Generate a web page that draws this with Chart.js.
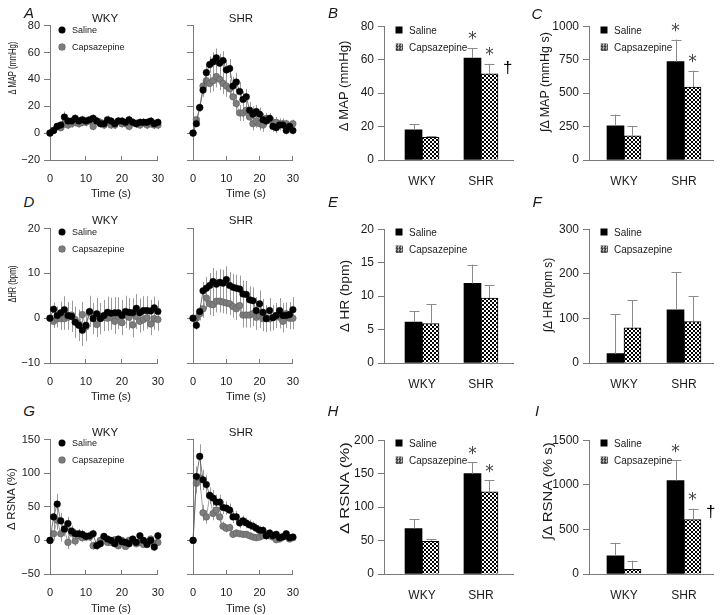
<!DOCTYPE html>
<html lang="en">
<head>
<meta charset="UTF-8">
<title>MAP, HR and RSNA responses</title>
<script src="https://cdn.jsdelivr.net/npm/chart.js"></script>
<style>
  body { margin: 0; background: #fff; }
  #fig { position: relative; width: 720px; height: 615px; overflow: hidden;
         font-family: "Liberation Sans", Arial, sans-serif; color: #1a1a1a; }
  #fig canvas { position: absolute; }
  .lbl { position: absolute; white-space: nowrap; transform: translate(-50%, -50%); }
  .letter { font-style: italic; font-size: 15px; }
  .sub { font-size: 11.5px; }
  .xt { font-size: 11px; }
  .leg { position: absolute; white-space: nowrap; transform: translateY(-50%); }
  .mk { position: absolute; transform: translate(-50%, -50%); }
</style>
</head>
<body>
<div id="fig"></div>
<script>
// ---- data ----
const seconds = [0,1,2,3,4,5,6,7,8,9,10,11,12,13,14,15,16,17,18,19,20,21,22,23,24,25,26,27,28,29,30];
const timeTicks = [0, 10, 20, 30];

// A: delta MAP (mmHg)
const mapTicks = [-20, 0, 20, 40, 60, 80];
const mapWkySal    = [0,2,5,6,12,9,9,11,9,10,9,10,11,9,7,7,10,9,7,9,9,8,10,8,7,8,8,8,9,7,8];
const mapWkySalErr = [0,1,2,2,4,3,3,3,3,3,3,3,3,3,3,3,3,3,3,3,3,3,3,3,3,3,3,3,3,3,3];
const mapWkyCap    = [0,2,5,4,7,6,7,8,7,8,8,9,5,9,8,6,8,6,6,9,7,7,5,8,7,6,8,6,7,6,6];
const mapWkyCapErr = [0,1,2,2,3,3,3,3,3,3,3,3,3,3,3,3,3,3,3,3,3,3,3,3,3,3,3,3,3,3,3];
const mapShrSal    = [0,7,19,32,45,51,53,56,52,54,47,48,35,38,31,25,27,17,14,16,14,10,9,11,5,4,6,6,2,5,2];
const mapShrSalErr = [0,2,3,5,6,6,7,7,7,7,7,7,7,7,7,6,6,6,6,5,5,5,4,4,4,4,4,3,3,3,3];
const mapShrCap    = [0,10,19,35,39,37,39,42,40,37,35,33,27,22,15,15,17,12,7,9,7,6,11,10,8,8,7,7,7,5,7];
const mapShrCapErr = [0,2,3,5,6,7,8,8,8,8,8,7,7,7,6,6,6,6,5,5,5,5,4,4,4,4,4,4,3,3,3];

// D: delta HR (bpm)
const hrTicks = [-10, 0, 10, 20];
const hrWkySal    = [0,2,0.6,1.2,1.9,0.6,0.4,-0.9,-1.6,-2.7,-1.6,1.5,-0.1,1,-0.1,0.6,1.3,1.1,1.2,1.2,0.6,1.5,1.3,1.2,2.2,1.2,1.7,1.7,1.6,2.3,1.5];
const hrWkySalErr = [0,1.5,2,2.5,3,3,3.5,3.5,3.5,3.5,3.5,3.5,3.5,3.5,3.5,3.5,3.5,3.5,3.5,3.5,3.5,3.5,3.2,3.2,3.2,3.2,3.2,3.2,2.5,2.5,2.5];
const hrWkyCap    = [0,-0.7,-0.1,-0.1,-0.1,0.2,0.7,-0.3,-1.3,0.8,-1.9,1.2,0.6,-1.4,0.4,0.2,0,0.2,-0.7,0.4,-1,0.6,0.2,-1.5,0.4,-0.7,-0.3,0.1,-1.3,-0.1,-0.3];
const hrWkyCapErr = [0,1.5,2,2.5,2.5,2.8,2.8,2.8,2.8,2.8,2.8,2.8,2.8,2.8,2.8,2.8,2.8,2.8,2.8,2.8,2.8,2.8,2.8,2.8,2.8,2.5,2.5,2.5,2.5,2.5,2.5];
const hrShrSal    = [0,-1.6,1.5,6.1,6.7,7.3,8.2,7.6,8,7.8,8.6,7.3,6.9,6.7,6.5,5.4,5.3,4.1,3.9,1.7,3.2,1.3,-0.1,1.7,0.1,0.6,1.7,0.6,0.6,0.8,1.9];
const hrShrSalErr = [0,1,1.5,2,2.5,2.8,3,3,3,3,3,3,3,3,3,3,3,3,3,3,3,3,3,2.8,2.8,2.8,2.8,2.8,2.8,2.8,2.8];
const hrShrCap    = [0,0,1,2.1,4.5,3.2,3,3.8,3.8,3.6,3.4,3.2,2.6,2.1,2.8,0.7,0.7,0.7,1,0.2,0.6,-0.1,0,-0.1,0.2,0.6,0.2,-0.7,1,0,0];
const hrShrCapErr = [0,1,1.5,2,2.5,2.5,2.5,2.5,2.5,2.5,2.5,2.5,2.5,2.5,2.5,2.8,2.8,2.8,2.8,2.8,2.8,2.8,2.8,2.8,2.8,2.5,2.5,2.5,2.5,2.5,2.5];

// G: delta RSNA (%)
const rsnaTicks = [-50, 0, 50, 100, 150];
const rsnaWkySal    = [0,35,54,29,17,25,14,10,10,9,6,7,10,-8,-5,6,2,0,-5,2,-2,-3,-5,2,-3,7,0,-6,0,-10,7];
const rsnaWkySalErr = [0,15,15,12,10,10,8,7,7,7,6,6,6,6,6,5,5,5,5,5,5,5,5,5,5,5,5,5,5,5,5];
const rsnaWkyCap    = [0,10,30,10,16,-3,11,-1,7,4,5,5,-8,-7,0,5,-3,-3,1,-8,0,-9,0,0,-5,-3,-6,-3,2,-5,-3];
const rsnaWkyCapErr = [0,10,14,12,10,10,8,7,7,6,6,6,6,5,5,5,5,5,5,5,5,5,5,5,5,5,5,5,5,5,5];
const rsnaShrSal    = [0,95,125,90,83,67,63,57,57,49,48,45,35,35,26,29,26,23,21,18,15,15,7,11,7,9,4,5,10,4,5];
const rsnaShrSalErr = [0,15,18,15,14,12,12,11,11,10,10,10,9,9,8,8,8,8,7,7,7,6,6,6,6,5,5,5,5,5,5];
const rsnaShrCap    = [0,85,93,41,35,66,40,45,35,21,18,19,9,11,10,9,9,7,5,4,5,7,7,7,5,1,2,6,7,2,4];
const rsnaShrCapErr = [0,15,18,12,10,12,10,9,9,7,6,6,5,5,4,4,4,4,4,4,4,4,4,4,4,4,4,4,4,4,4];

// bar panels: [WKY, SHR]
const groups = ['WKY', 'SHR'];
const mapPeakTicks = [0, 20, 40, 60, 80];
const mapPeakSal = [18, 61],    mapPeakSalErr = [3.5, 6];
const mapPeakCap = [13.5, 51.5], mapPeakCapErr = [0.7, 6];
const mapAucTicks = [0, 250, 500, 750, 1000];
const mapAucSal = [255, 735],   mapAucSalErr = [85, 165];
const mapAucCap = [180, 545],   mapAucCapErr = [75, 122];
const hrPeakTicks = [0, 5, 10, 15, 20];
const hrPeakSal = [6.1, 11.9],  hrPeakSalErr = [1.6, 2.8];
const hrPeakCap = [5.9, 9.7],   hrPeakCapErr = [2.9, 1.95];
const hrAucTicks = [0, 100, 200, 300];
const hrAucSal = [21, 119],     hrAucSalErr = [89, 85];
const hrAucCap = [79, 93],      hrAucCapErr = [62, 57];
const rsnaPeakTicks = [0, 50, 100, 150, 200];
const rsnaPeakSal = [68, 150],  rsnaPeakSalErr = [14, 17];
const rsnaPeakCap = [49, 123],  rsnaPeakCapErr = [3, 17];
const rsnaAucTicks = [0, 500, 1000, 1500];
const rsnaAucSal = [204, 1047], rsnaAucSalErr = [145, 230];
const rsnaAucCap = [52, 609],   rsnaAucCapErr = [97, 122];

// ---- drawing ----
const FONT = '"Liberation Sans", Arial, sans-serif';
const AX = '#7a7a7a';
const TXT = '#1a1a1a';
const PAD_T = 10, PAD_R = 12;
const fig = document.getElementById('fig');
const fmt = v => v < 0 ? '\u2212' + Math.abs(v) : String(v);

// error bars + significance marks
Chart.register({
  id: 'errorBars',
  beforeDatasetsDraw(chart, args, o) { if (o.mode === 'line') drawErrors(chart, o); },
  afterDatasetsDraw(chart, args, o) {
    if (o.mode !== 'bar') return;
    drawErrors(chart, o);
    const ctx = chart.ctx, ys = chart.scales.y;
    (o.marks || []).forEach(m => {
      const ds = chart.data.datasets[m.ds];
      const el = chart.getDatasetMeta(m.ds).data[m.i];
      const top = ys.getPixelForValue(ds.data[m.i].y + ds.errors[m.i]);
      ctx.save();
      if (m.text === '*') {
        ctx.font = '17px "DejaVu Sans"';
        ctx.fillStyle = '#444';
        ctx.textAlign = 'center';
        ctx.textBaseline = 'middle';
        ctx.fillText('*', el.x, top - 8);
      } else {
        ctx.font = '17px ' + FONT;
        ctx.fillStyle = '#000';
        ctx.textAlign = 'left';
        ctx.textBaseline = 'middle';
        ctx.fillText(m.text, el.x + el.width / 2 + 5, top + 4);
      }
      ctx.restore();
    });
  }
});

function drawErrors(chart, o) {
  const ctx = chart.ctx, ys = chart.scales.y;
  chart.data.datasets.forEach((ds, i) => {
    if (!ds.errors) return;
    ctx.save();
    ctx.strokeStyle = o.color;
    ctx.lineWidth = 1;
    chart.getDatasetMeta(i).data.forEach((el, j) => {
      const v = ds.data[j].y, e = ds.errors[j];
      if (!e) return;
      const x = Math.round(el.x) + 0.5;
      const yT = ys.getPixelForValue(v + e);
      const yB = o.mode === 'bar' ? el.y : ys.getPixelForValue(v - e);
      ctx.beginPath();
      ctx.moveTo(x, yB); ctx.lineTo(x, yT);
      if (o.mode === 'bar') { ctx.moveTo(x - 5, Math.round(yT) + 0.5); ctx.lineTo(x + 5, Math.round(yT) + 0.5); }
      ctx.stroke();
    });
    ctx.restore();
  });
}

function makeCanvas(area, yw, xh) {
  const c = document.createElement('canvas');
  const w = area.r - area.l + yw + PAD_R, h = area.b - area.t + PAD_T + xh;
  c.width = w; c.height = h;
  c.style.left = (area.l - yw) + 'px';
  c.style.top = (area.t - PAD_T) + 'px';
  c.style.width = w + 'px'; c.style.height = h + 'px';
  fig.appendChild(c);
  return c;
}

function yAxis(ticks, yw, size, showLabels) {
  return {
    min: ticks[0], max: ticks[ticks.length - 1],
    afterBuildTicks: s => { s.ticks = ticks.map(v => ({ value: v })); },
    afterFit: s => { s.width = yw; },
    border: { color: AX, width: 1 },
    grid: { drawOnChartArea: false, tickLength: 6, color: AX, lineWidth: 1 },
    ticks: { padding: 4, color: TXT, font: { family: FONT, size: size },
             callback: showLabels ? fmt : () => '' }
  };
}

function lineChart(area, ticks, sal, salErr, cap, capErr, showLabels) {
  const yw = showLabels ? 46 : 10, xh = 30;
  const pts = vals => seconds.map((t, i) => ({ x: t, y: vals[i] }));
  new Chart(makeCanvas(area, yw, xh), {
    type: 'line',
    data: { datasets: [
      { label: 'Saline', data: pts(sal), errors: salErr, borderColor: '#555', borderWidth: 0.8,
        pointRadius: 3.3, pointBackgroundColor: '#000', pointBorderColor: '#000', pointBorderWidth: 0.5, clip: false },
      { label: 'Capsazepine', data: pts(cap), errors: capErr, borderColor: '#8a8a8a', borderWidth: 0.8,
        pointRadius: 3.3, pointBackgroundColor: '#7d7d7d', pointBorderColor: '#5e5e5e', pointBorderWidth: 0.6, clip: false }
    ] },
    options: {
      responsive: false, animation: false, events: [],
      layout: { padding: { top: PAD_T, right: PAD_R, left: 0, bottom: 0 } },
      plugins: { legend: { display: false }, tooltip: { enabled: false }, errorBars: { mode: 'line', color: '#9a9a9a' } },
      scales: {
        x: { type: 'linear', min: 0, max: 30,
             afterBuildTicks: s => { s.ticks = timeTicks.map(v => ({ value: v })); },
             afterFit: s => { s.height = xh; },
             border: { color: AX, width: 1 },
             grid: { drawOnChartArea: false, tickLength: -4, color: AX },
             ticks: { padding: 16, maxRotation: 0, color: TXT, font: { family: FONT, size: 11 } } },
        y: yAxis(ticks, yw, 11, showLabels)
      }
    }
  });
}

function barChart(area, ticks, xr, sal, salErr, cap, capErr, marks) {
  const yw = 46, xh = 40;
  const canvas = makeCanvas(area, yw, xh);
  const tile = document.createElement('canvas');
  tile.width = tile.height = 4;
  const g = tile.getContext('2d');
  g.fillStyle = '#000'; g.fillRect(0, 0, 4, 4);
  g.fillStyle = '#fff'; g.fillRect(0, 0, 2, 2); g.fillRect(2, 2, 2, 2);
  const checker = canvas.getContext('2d').createPattern(tile, 'repeat');
  const pts = vals => groups.map((gr, i) => ({ x: i, y: vals[i] }));
  new Chart(canvas, {
    type: 'bar',
    data: { datasets: [
      { label: 'Saline', data: pts(sal), errors: salErr, backgroundColor: '#000', barThickness: 17 },
      { label: 'Capsazepine', data: pts(cap), errors: capErr, backgroundColor: checker,
        borderColor: '#000', borderWidth: 1, barThickness: 17 }
    ] },
    options: {
      responsive: false, animation: false, events: [],
      layout: { padding: { top: PAD_T, right: PAD_R, left: 0, bottom: 0 } },
      plugins: { legend: { display: false }, tooltip: { enabled: false },
                 errorBars: { mode: 'bar', color: '#8a8a8a', marks: marks } },
      scales: {
        x: { type: 'linear', min: xr[0], max: xr[1], offset: false,
             afterBuildTicks: s => { s.ticks = groups.map((gr, i) => ({ value: i })); },
             afterFit: s => { s.height = xh; },
             border: { color: AX, width: 1 },
             grid: { display: false },
             ticks: { padding: 6, maxRotation: 0, color: TXT, font: { family: FONT, size: 12 },
                      callback: v => groups[v] } },
        y: yAxis(ticks, yw, 12, true)
      }
    }
  });
}

const colB = [-0.645, 1.543], colC = [-0.583, 1.483];
const shrStars = [{ ds: 0, i: 1, text: '*' }, { ds: 1, i: 1, text: '*' }];
const withDagger = shrStars.concat([{ ds: 1, i: 1, text: '\u2020' }]);

lineChart({ l: 50, t: 25, r: 168, b: 160 }, mapTicks, mapWkySal, mapWkySalErr, mapWkyCap, mapWkyCapErr, true);
lineChart({ l: 184, t: 25, r: 303, b: 160 }, mapTicks, mapShrSal, mapShrSalErr, mapShrCap, mapShrCapErr, false);
lineChart({ l: 50, t: 228, r: 168, b: 363 }, hrTicks, hrWkySal, hrWkySalErr, hrWkyCap, hrWkyCapErr, true);
lineChart({ l: 184, t: 228, r: 303, b: 363 }, hrTicks, hrShrSal, hrShrSalErr, hrShrCap, hrShrCapErr, false);
lineChart({ l: 50, t: 439, r: 168, b: 574 }, rsnaTicks, rsnaWkySal, rsnaWkySalErr, rsnaWkyCap, rsnaWkyCapErr, true);
lineChart({ l: 184, t: 439, r: 303, b: 574 }, rsnaTicks, rsnaShrSal, rsnaShrSalErr, rsnaShrCap, rsnaShrCapErr, false);

barChart({ l: 384, t: 25, r: 513, b: 160 }, mapPeakTicks, colB, mapPeakSal, mapPeakSalErr, mapPeakCap, mapPeakCapErr, withDagger);
barChart({ l: 589, t: 25, r: 713, b: 160 }, mapAucTicks, colC, mapAucSal, mapAucSalErr, mapAucCap, mapAucCapErr, shrStars);
barChart({ l: 384, t: 228, r: 513, b: 363 }, hrPeakTicks, colB, hrPeakSal, hrPeakSalErr, hrPeakCap, hrPeakCapErr, []);
barChart({ l: 589, t: 228, r: 713, b: 363 }, hrAucTicks, colC, hrAucSal, hrAucSalErr, hrAucCap, hrAucCapErr, []);
barChart({ l: 384, t: 439, r: 513, b: 574 }, rsnaPeakTicks, colB, rsnaPeakSal, rsnaPeakSalErr, rsnaPeakCap, rsnaPeakCapErr, shrStars);
barChart({ l: 589, t: 439, r: 713, b: 574 }, rsnaAucTicks, colC, rsnaAucSal, rsnaAucSalErr, rsnaAucCap, rsnaAucCapErr, withDagger);

// ---- text overlays ----
function put(text, x, y, cls) {
  const d = document.createElement('div');
  d.className = cls; d.textContent = text;
  d.style.left = x + 'px'; d.style.top = y + 'px';
  fig.appendChild(d);
  return d;
}

[['A', 29, 12], ['B', 333, 12], ['C', 537, 13], ['D', 29, 201], ['E', 333, 201], ['F', 537, 201],
 ['G', 29, 410], ['H', 333, 410], ['I', 537, 410]].forEach(a => put(a[0], a[1], a[2], 'lbl letter'));

[18, 220, 432].forEach(y => { put('WKY', 105, y, 'lbl sub'); put('SHR', 241, y, 'lbl sub'); });
[193, 396, 608].forEach(y => { put('Time (s)', 111, y, 'lbl xt'); put('Time (s)', 246, y, 'lbl xt'); });

// rotated axis titles, squeezed to the length seen in the figure
[['\u0394 MAP (mmHg)', 12, 68, 53, 10.5], ['\u0394HR (bpm)', 12, 284, 37, 10], ['\u0394 RSNA (%)', 11, 499, 62, 11],
 ['\u0394 MAP (mmHg)', 344, 86, 91, 12.5], ['\u222B\u0394 MAP (mmHg s)', 545, 82, 100, 12.5],
 ['\u0394 HR (bpm)', 345, 296, 72, 12.5], ['\u222B\u0394 HR (bpm s)', 548, 295, 74, 12],
 ['\u0394 RSNA (%)', 344, 488, 92, 13], ['\u222B\u0394 RSNA (% s)', 547, 491, 97, 13]].forEach(a => {
  const d = put(a[0], a[1], a[2], 'lbl');
  d.style.fontSize = a[4] + 'px';
  const k = a[3] / d.offsetWidth;
  d.style.transform = 'translate(-50%, -50%) rotate(-90deg) scaleX(' + k.toFixed(3) + ')';
});

// legends
function legend(kind, x, y1, y2, size) {
  const m1 = put('', x, y1, 'mk'), m2 = put('', x, y2, 'mk');
  [m1, m2].forEach(m => { m.style.width = '7px'; m.style.height = '7px'; });
  if (kind === 'dot') {
    m1.style.borderRadius = m2.style.borderRadius = '50%';
    m1.style.background = '#000';
    m2.style.background = '#7d7d7d'; m2.style.boxShadow = 'inset 0 0 0 0.6px #5e5e5e';
  } else {
    m1.style.background = '#000';
    m2.style.background = 'repeating-conic-gradient(#000 0 25%, #fff 0 50%) 0 0 / 3px 3px';
    m2.style.boxShadow = 'inset 0 0 0 0.5px #000';
  }
  const tx = x + 10;
  put('Saline', tx, y1, 'leg').style.fontSize = size + 'px';
  put('Capsazepine', tx, y2, 'leg').style.fontSize = size + 'px';
}
[[30, 47], [232, 249], [443, 460]].forEach(r => {
  legend('dot', 62, r[0], r[1], 9);
  legend('sq', 399, r[0], r[1], 10);
  legend('sq', 604, r[0], r[1], 10);
});
</script>
</body>
</html>
